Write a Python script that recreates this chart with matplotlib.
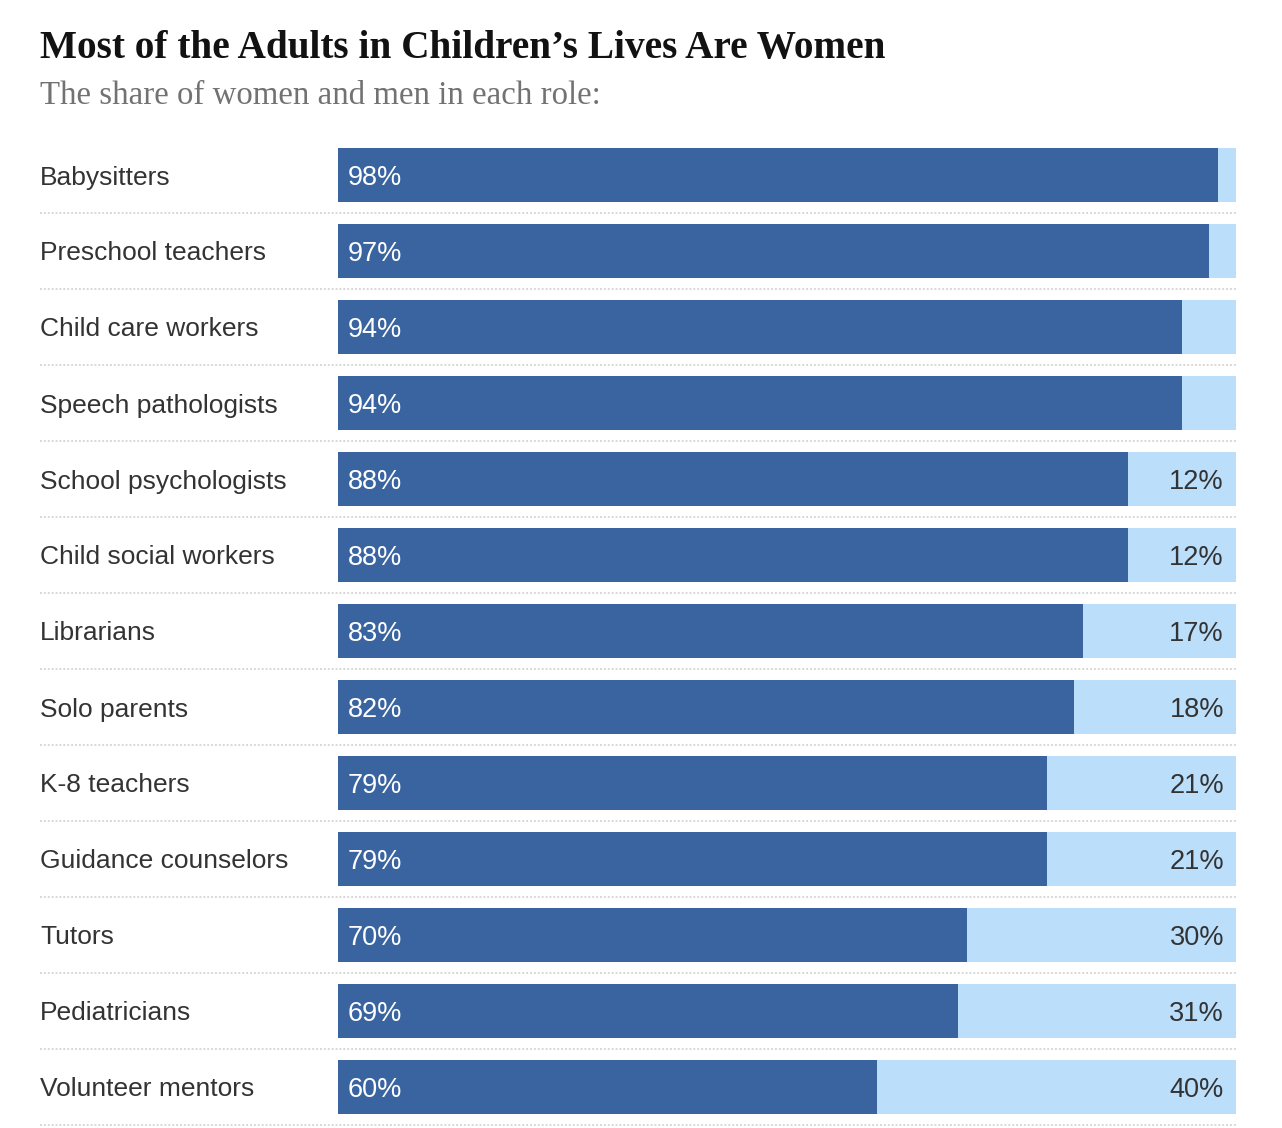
import matplotlib
matplotlib.use("Agg")
import matplotlib.pyplot as plt
import matplotlib.transforms as mtransforms

roles = ["Babysitters", "Preschool teachers", "Child care workers", "Speech pathologists",
         "School psychologists", "Child social workers", "Librarians", "Solo parents",
         "K-8 teachers", "Guidance counselors", "Tutors", "Pediatricians", "Volunteer mentors"]
women = [98, 97, 94, 94, 88, 88, 83, 82, 79, 79, 70, 69, 60]
men = [2, 3, 6, 6, 12, 12, 17, 18, 21, 21, 30, 31, 40]

title = "Most of the Adults in Children\u2019s Lives Are Women"
subtitle = "The share of women and men in each role:"

DARK = "#3a64a0"
LIGHT = "#bbdefb"
TEXT = "#333333"

W, H = 1282, 1128
fig = plt.figure(figsize=(W / 100, H / 100), dpi=100)
fig.patch.set_facecolor("white")

ax = fig.add_axes([338 / W, 3 / H, (1236 - 338) / W, (1125 - 137) / H])
ax.set_xlim(0, 100)
ax.set_ylim(len(roles) - 0.5, -0.5)
ax.axis("off")

ypos = list(range(len(roles)))
bh = 54 / 76
ax.barh(ypos, women, height=bh, color=DARK, left=0)
ax.barh(ypos, men, height=bh, color=LIGHT, left=women)

sans = ["Liberation Sans", "DejaVu Sans"]
blend = mtransforms.blended_transform_factory(fig.transFigure, ax.transData)
off_left = mtransforms.offset_copy(ax.transData, fig=fig, x=10, y=0, units="dots")
off_right = mtransforms.offset_copy(ax.transData, fig=fig, x=-12, y=0, units="dots")

for i, (r, w, m) in enumerate(zip(roles, women, men)):
    fig.text(40 / W, i, r, transform=blend, ha="left", va="center_baseline",
             fontsize=19, color=TEXT, family=sans)
    ax.text(0, i, f"{w}%", transform=off_left, ha="left", va="center_baseline",
            fontsize=19.5, color="white", family=sans)
    if m >= 10:
        ax.text(100, i, f"{m}%", transform=off_right, ha="right", va="center_baseline",
                fontsize=19.5, color=TEXT, family=sans)
    ax.plot([40 / W, 1236 / W], [i + 0.5, i + 0.5], transform=blend, color="#d8d8d8",
            linewidth=1.4, linestyle=(0, (1, 1)), clip_on=False, solid_capstyle="butt",
            dash_capstyle="butt")

fig.text(40 / W, 1 - 58 / H, title, ha="left", va="baseline", fontsize=28.3,
         fontweight="bold", color="#121212", family=["Liberation Serif", "DejaVu Serif"])
fig.text(40 / W, 1 - 104 / H, subtitle, ha="left", va="baseline", fontsize=23.7,
         color="#727272", family=["Liberation Serif", "DejaVu Serif"])

fig.savefig("out.png", dpi=100, facecolor="white")
